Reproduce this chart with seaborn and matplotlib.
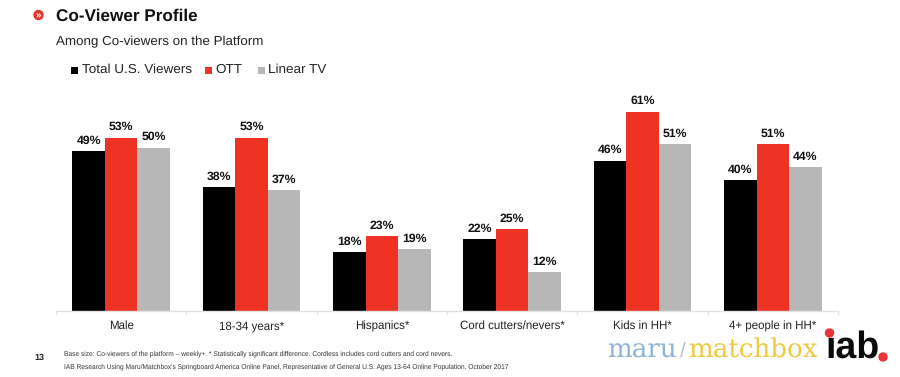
import matplotlib
matplotlib.use("Agg")
import matplotlib.pyplot as plt
from matplotlib.patches import Circle
import pandas as pd
import seaborn as sns

categories = ["Male", "18-34 years*", "Hispanics*", "Cord cutters/nevers*", "Kids in HH*", "4+ people in HH*"]
total_us = [49, 38, 18, 22, 46, 40]
ott = [53, 53, 23, 25, 61, 51]
linear_tv = [50, 37, 19, 12, 51, 44]
series_names = ["Total U.S. Viewers", "OTT", "Linear TV"]
colors = ["#000000", "#EE3224", "#B7B7B7"]

W, H = 900, 377

sns.set_theme(style="white")
plt.rcParams["font.family"] = ["Liberation Sans", "DejaVu Sans"]
plt.rcParams["text.hinting"] = "none"

df = pd.DataFrame({"category": categories, series_names[0]: total_us,
                   series_names[1]: ott, series_names[2]: linear_tv})
long_df = df.melt(id_vars="category", var_name="series", value_name="pct")

fig = plt.figure(figsize=(W / 100, H / 100), dpi=100)
ax = fig.add_axes([56 / W, 1 - 311 / H, (838 - 56) / W, 211 / H])

sns.barplot(data=long_df, x="category", y="pct", hue="series", hue_order=series_names,
            palette=colors, saturation=1, width=0.75, gap=0, linewidth=0, ax=ax, legend=False)

for cont in ax.containers:
    ax.bar_label(cont, fmt="%d%%", fontsize=8.8, fontweight="bold", color="#111111", padding=3.5)

ax.set_xlim(-0.5, 5.5)
ax.set_ylim(0, 211 / 3.27)
ax.set_xlabel("")
ax.set_ylabel("")
ax.set_yticks([])
sns.despine(ax=ax, left=True)
ax.spines["bottom"].set_color("#E2E2E2")
ax.spines["bottom"].set_linewidth(1)
ax.set_xticks([i - 0.5 for i in range(7)], minor=True)
ax.tick_params(axis="x", which="minor", length=3, color="#E2E2E2", width=1, bottom=True)
ax.tick_params(axis="x", which="major", length=0, labelsize=8.3, labelcolor="#222222", pad=13)
# baseline alignment keeps labels with and without descenders level
for lab in ax.get_xticklabels():
    lab.set_va("baseline")


def tx(px, py, s, **kw):
    return fig.text(px / W, 1 - py / H, s, va="center", **kw)


# title block
tx(56, 16, "Co-Viewer Profile", fontsize=12.3, fontweight="bold", color="#111111")
tx(56, 41.5, "Among Co-viewers on the Platform", fontsize=9.6, color="#222222")
fig.add_artist(Circle((38.5, H - 15), 4.5, transform=None, color="#E0362C"))
tx(38.5, 15, "»", fontsize=7, color="white", ha="center", fontweight="bold")

# legend
for sx, tx_x, name, col in zip([71, 205, 258], [81.5, 215, 268], series_names, colors):
    fig.patches.append(plt.Rectangle((sx / W, 1 - 73.5 / H), 7 / W, 7 / H, transform=fig.transFigure,
                                     facecolor=col, edgecolor="none"))
    tx(tx_x, 70, name, fontsize=9.7, color="#222222")

# footer
tx(39.5, 358, "13", fontsize=6.5, fontweight="bold", color="#222222", ha="center")
tx(64, 353.5, "Base size: Co-viewers of the platform – weekly+. * Statistically significant difference. "
   "Cordless includes cord cutters and cord nevers.", fontsize=4.76, color="#333333")
tx(64, 367, "IAB Research Using Maru/Matchbox's Springboard America Online Panel, Representative of "
   "General U.S. Ages 13-64 Online Population, October 2017", fontsize=4.76, color="#333333")

# logos
tx(607, 350, "maru", fontsize=18.8, family="DejaVu Serif", color="#8DB4D8")
tx(679.5, 351, "/", fontsize=15, color="#B9C4CC")
tx(688, 350, "matchbox", fontsize=18.8, family="DejaVu Serif", color="#EFC93F")
tx(825, 348, "iab", fontsize=27, fontweight="bold", color="#0A0A0A")
fig.add_artist(Circle((829.5, H - 333), 4, transform=None, color="#E8343A", zorder=5))
fig.add_artist(Circle((883, H - 357), 4, transform=None, color="#E8343A", zorder=5))

fig.savefig("out.png", dpi=100)
